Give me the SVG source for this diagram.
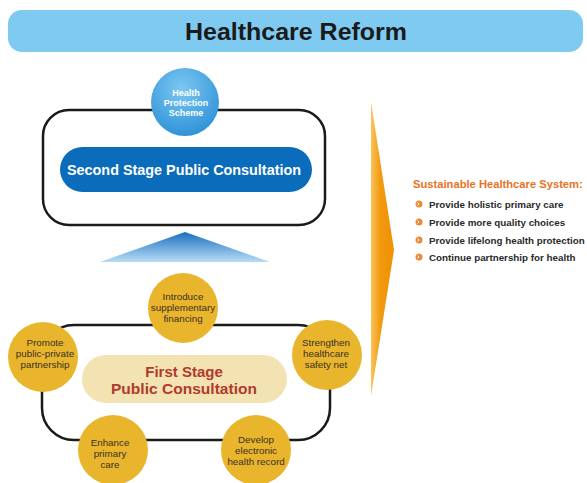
<svg xmlns="http://www.w3.org/2000/svg" width="587" height="483" viewBox="0 0 587 483">
<defs>
<style>
text{font-family:"Liberation Sans",Arial,sans-serif}
.gold{fill:#e8b52c}
.ct{font-size:9.8px;fill:#3a3026;text-anchor:middle}
.loop{fill:none;stroke:#1a1a1a;stroke-width:2.5}
.li{font-size:9.8px;font-weight:bold;fill:#2a2a2a}
.bul{fill:#ec8a3a}
.chk{fill:none;stroke:#ffffff;stroke-width:1}
</style>
<radialGradient id="hps" cx="0.45" cy="0.3" r="0.75">
<stop offset="0" stop-color="#7cc8f2"/><stop offset="1" stop-color="#2a8fd6"/>
</radialGradient>
<linearGradient id="tri" x1="0" y1="0" x2="0" y2="1">
<stop offset="0" stop-color="#1a6fc0"/><stop offset="1" stop-color="#b8ddf5"/>
</linearGradient>
<linearGradient id="chev" x1="0" y1="0" x2="1" y2="0">
<stop offset="0" stop-color="#fbc45a"/><stop offset="0.4" stop-color="#f29a10"/><stop offset="1" stop-color="#ef9000"/>
</linearGradient>
</defs>
<rect width="587" height="483" fill="#ffffff"/>

<g id="title">
<rect x="8" y="10" width="575" height="42" rx="14" fill="#7fcaf0"/>
<text x="296" y="40" font-size="24" font-weight="bold" fill="#1a1a1a" text-anchor="middle" textLength="222" lengthAdjust="spacingAndGlyphs">Healthcare Reform</text>
</g>

<g id="connectors">
<rect class="loop" x="43" y="110" width="282" height="115" rx="26"/>
<rect class="loop" x="42" y="325" width="288" height="115" rx="32"/>
</g>

<g id="second-stage">
<rect x="60" y="147" width="252" height="45" rx="22.5" fill="#0b6cbb"/>
<text x="184" y="175" font-size="14" font-weight="bold" fill="#ffffff" text-anchor="middle" textLength="234" lengthAdjust="spacingAndGlyphs">Second Stage Public Consultation</text>
</g>

<g id="health-protection">
<circle cx="185" cy="102" r="34" fill="url(#hps)"/>
<text x="186" y="96" font-size="9" font-weight="bold" fill="#ffffff" text-anchor="middle">Health</text>
<text x="186" y="106" font-size="9" font-weight="bold" fill="#ffffff" text-anchor="middle">Protection</text>
<text x="186" y="116" font-size="9" font-weight="bold" fill="#ffffff" text-anchor="middle">Scheme</text>
</g>

<g id="up-arrow">
<polygon points="185,232 270,262 100,262" fill="url(#tri)"/>
</g>

<g id="first-stage">
<rect x="82" y="355" width="205" height="48" rx="24" fill="#f3e2b2"/>
<text x="184" y="377" font-size="15" font-weight="bold" fill="#b03a2e" text-anchor="middle">First Stage</text>
<text x="184" y="394" font-size="15" font-weight="bold" fill="#b03a2e" text-anchor="middle" textLength="146" lengthAdjust="spacingAndGlyphs">Public Consultation</text>
</g>

<g id="n-financing">
<circle class="gold" cx="183" cy="308" r="35"/>
<text class="ct" x="183" y="300">Introduce</text>
<text class="ct" x="183" y="311">supplementary</text>
<text class="ct" x="183" y="322">financing</text>
</g>
<g id="n-ppp">
<circle class="gold" cx="43" cy="357" r="35"/>
<text class="ct" x="45" y="346">Promote</text>
<text class="ct" x="45" y="357">public-private</text>
<text class="ct" x="45" y="368">partnership</text>
</g>
<g id="n-safety">
<circle class="gold" cx="327" cy="355" r="35"/>
<text class="ct" x="326" y="346">Strengthen</text>
<text class="ct" x="326" y="357">healthcare</text>
<text class="ct" x="326" y="368">safety net</text>
</g>
<g id="n-primary">
<circle class="gold" cx="113" cy="450" r="35"/>
<text class="ct" x="110" y="446">Enhance</text>
<text class="ct" x="110" y="457">primary</text>
<text class="ct" x="110" y="468">care</text>
</g>
<g id="n-ehr">
<circle class="gold" cx="256" cy="450" r="35"/>
<text class="ct" x="256" y="443">Develop</text>
<text class="ct" x="256" y="454">electronic</text>
<text class="ct" x="256" y="465">health record</text>
</g>

<g id="chevron">
<polygon points="371,102 394,250 371,396" fill="url(#chev)"/>
</g>

<g id="sustainable">
<text x="413" y="188" font-size="11.2" font-weight="bold" fill="#e8731f">Sustainable Healthcare System:</text>
<circle class="bul" cx="419" cy="204" r="3.5"/>
<circle class="bul" cx="419" cy="222" r="3.5"/>
<circle class="bul" cx="419" cy="240" r="3.5"/>
<circle class="bul" cx="419" cy="257" r="3.5"/>
<path class="chk" d="M417.5,202.5 L419,204 L417.5,205.5 M417.5,220.5 L419,222 L417.5,223.5 M417.5,238.5 L419,240 L417.5,241.5 M417.5,255.5 L419,257 L417.5,258.5"/>
<text class="li" x="429" y="207.5">Provide holistic primary care</text>
<text class="li" x="429" y="225.5">Provide more quality choices</text>
<text class="li" x="429" y="243.5">Provide lifelong health protection</text>
<text class="li" x="429" y="260.5">Continue partnership for health</text>
</g>
</svg>
